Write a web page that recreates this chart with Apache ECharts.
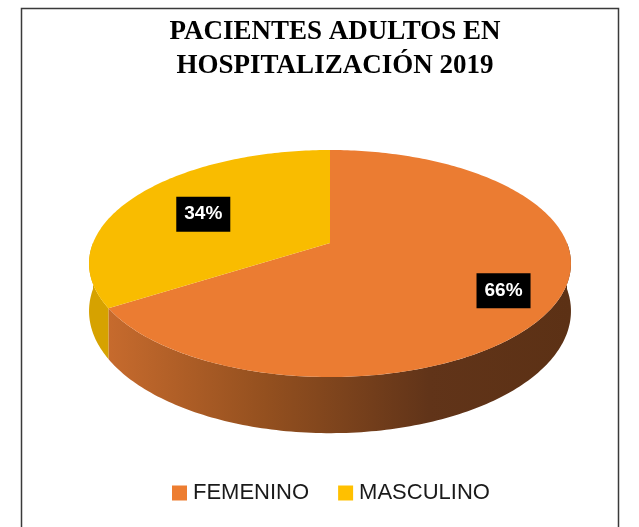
<!DOCTYPE html>
<html>
<head>
<meta charset="utf-8">
<script src="https://cdn.jsdelivr.net/npm/echarts@6/dist/echarts.min.js"></script>
<style>
  html, body { margin: 0; padding: 0; background: #fff; }
  #main { width: 639px; height: 527px; }
</style>
</head>
<body>
<div id="main"></div>
<script>
const categories = ['FEMENINO', 'MASCULINO']
const values = [66, 34]
const topColors = ['#EB7C32', '#F9BC00']
const legendColors = ['#ED7D31', '#FFC000']

const total = values.reduce((a, b) => a + b, 0)

// elipse en perspectiva del pastel 3d
const CX = 330
const CY = 243
const RA = 237
const RB = 109.8
const K = 0.1807
const DEPTH = 46

const proj = (theta, f, drop) => {
  const u = f * Math.sin(theta)
  const v = f * Math.cos(theta)
  const w = 1 + K * v
  return [CX + (RA * u) / w, CY - (RB * v) / w + (drop ? DEPTH / w : 0)]
}

const arc = (a, b, drop) => {
  const pts = []
  const n = Math.max(2, Math.ceil(Math.abs(b - a) / (Math.PI / 180)))
  for (let i = 0; i <= n; i++) {
    pts.push(proj(a + ((b - a) * i) / n, 1, drop))
  }
  return pts
}

const sideFill = idx => {
  if (idx === 0) {
    return new echarts.graphic.LinearGradient(100, 0, 570, 0, [
      { offset: 0, color: '#C96C2E' },
      { offset: 0.35, color: '#94501F' },
      { offset: 0.7, color: '#613419' },
      { offset: 1, color: '#5C3115' }
    ], true)
  }
  return '#D6A200'
}

const renderSlice = (params, api) => {
  const idx = params.seriesIndex
  let before = 0
  for (let i = 0; i < idx; i++) before += values[i]
  const start = (before / total) * Math.PI * 2
  const end = start + (api.value(0) / total) * Math.PI * 2
  const children = []

  // lado visible (mitad frontal)
  const lo = Math.max(start, Math.PI / 2)
  const hi = Math.min(end, Math.PI * 1.5)
  if (lo < hi) {
    const pts = arc(lo, hi, false).concat(arc(hi, lo, true))
    children.push({
      type: 'polygon',
      shape: { points: pts },
      style: { fill: sideFill(idx) }
    })
  }

  // cara superior
  const topPts = [proj(0, 0, false)].concat(arc(start, end, false))
  children.push({
    type: 'polygon',
    shape: { points: topPts },
    style: { fill: topColors[idx] }
  })

  // etiqueta
  const mid = (start + end) / 2
  const lp = proj(mid, 0.72, false)
  children.push({
    type: 'text',
    x: lp[0] + 14,
    y: lp[1] + 7,
    style: {
      text: Math.round((api.value(0) / total) * 100) + '%',
      fill: '#fff',
      font: 'bold 19px "Liberation Sans", sans-serif',
      align: 'center',
      verticalAlign: 'middle',
      backgroundColor: '#000',
      padding: [8, 8, 8, 8]
    }
  })
  return { type: 'group', children }
}

const chart = echarts.init(document.getElementById('main'))
chart.setOption({
  animation: false,
  title: {
    text: 'PACIENTES ADULTOS EN\nHOSPITALIZACIÓN 2019',
    left: 330,
    top: 10,
    textAlign: 'center',
    textStyle: {
      fontFamily: '"Liberation Serif", serif',
      fontWeight: 'bold',
      fontSize: 27,
      lineHeight: 34,
      color: '#000'
    }
  },
  legend: {
    left: 172,
    top: 482,
    padding: 0,
    icon: 'rect',
    itemWidth: 15,
    itemHeight: 15,
    itemGap: 29,
    textStyle: {
      fontFamily: '"Liberation Sans", sans-serif',
      fontSize: 22,
      color: '#1a1a1a',
      padding: [0, 0, 0, 1]
    },
    data: categories
  },
  graphic: [
    {
      type: 'rect',
      shape: { x: 21.5, y: 8.5, width: 597, height: 540 },
      style: { fill: null, stroke: '#3a3a3a', lineWidth: 1.5 },
      silent: true
    }
  ],
  series: categories.map((name, i) => ({
    name,
    type: 'custom',
    coordinateSystem: 'none',
    itemStyle: { color: legendColors[i] },
    renderItem: renderSlice,
    data: [values[i]]
  }))
})
</script>
</body>
</html>
